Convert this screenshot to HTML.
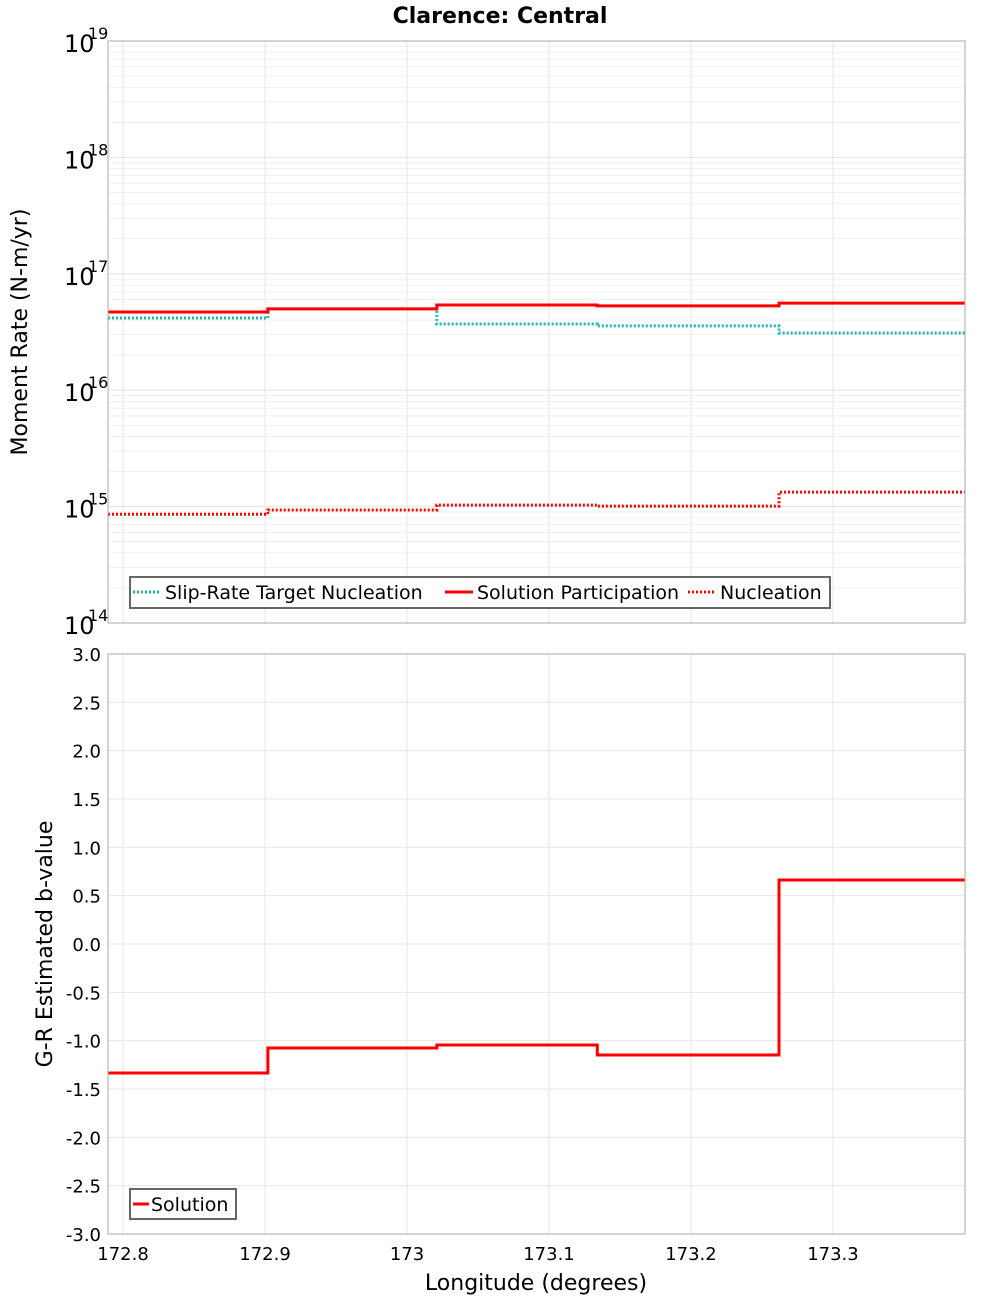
<!DOCTYPE html>
<html><head><meta charset="utf-8"><style>
body{margin:0;background:#fff}
svg{display:block;font-family:"DejaVu Sans","Liberation Sans",sans-serif}
</style></head><body>
<svg id="c" width="1000" height="1300" xmlns="http://www.w3.org/2000/svg">
<text x="500" y="23" text-anchor="middle" font-size="22" font-weight="bold">Clarence: Central</text>
<g id="topPanel"></g>
<g id="botPanel"></g>
<text transform="translate(27,332) rotate(-90)" text-anchor="middle" font-size="22">Moment Rate (N-m/yr)</text>
<text transform="translate(52,944) rotate(-90)" text-anchor="middle" font-size="22">G-R Estimated b-value</text>
<text x="536" y="1290" text-anchor="middle" font-size="22">Longitude (degrees)</text>
</svg>
<script>
const binEdges=[172.7894,172.902,173.021,173.134,173.262,173.393];
const xTicks=[172.8,172.9,173.0,173.1,173.2,173.3];
const xTickLabels=["172.8","172.9","173","173.1","173.2","173.3"];
const targetNucleation=[4.17e16,5.0e16,3.7e16,3.57e16,3.1e16];
const solutionParticipation=[4.7e16,5.0e16,5.4e16,5.3e16,5.6e16];
const nucleation=[8.6e14,9.35e14,1.03e15,1.01e15,1.33e15];
const bValues=[-1.334,-1.076,-1.045,-1.148,0.662];
const bTicks=[3,2.5,2,1.5,1,0.5,0,-0.5,-1,-1.5,-2,-2.5,-3];
const logTicks=[14,15,16,17,18,19];

const NS="http://www.w3.org/2000/svg";
const L=108,R=965,T1=41,B1=623,T2=654,B2=1234;
const xs=v=>L+(v-172.7894)/(173.393-172.7894)*(R-L);
const y1=v=>B1-(Math.log10(v)-14)/5*(B1-T1);
const y2=v=>B2-(v+3)/6*(B2-T2);
function mk(p,tag,at,txt){const e=document.createElementNS(NS,tag);for(const k in at)e.setAttribute(k,at[k]);if(txt!==undefined)e.textContent=txt;p.appendChild(e);return e;}
const topG=document.getElementById('topPanel'),botG=document.getElementById('botPanel');
for(let d=14;d<19;d++)for(let m=1;m<10;m++){const y=y1(m*Math.pow(10,d));
 const g=mk(topG,'line',{x1:L,x2:R,y1:y,y2:y,stroke:m==1?'#e2e2e2':'#efefef','stroke-width':1});
 
 }
for(const t of xTicks){const x=xs(t);
 let g=mk(topG,'line',{x1:x,x2:x,y1:T1,y2:B1,stroke:'#e6e6e6'});
 
 
 g=mk(botG,'line',{x1:x,x2:x,y1:T2,y2:B2,stroke:'#e6e6e6'});
 
 }
for(const t of bTicks){const y=y2(t);
 let g=mk(botG,'line',{x1:L,x2:R,y1:y,y2:y,stroke:'#e6e6e6'});
 
 
 const tx=mk(botG,'text',{x:101,y:y+7,'text-anchor':'end','font-size':18},t.toFixed(1));
 
 }
for(const d of logTicks){const y=y1(Math.pow(10,d));
 const g=mk(topG,'g',{});
 
 
 mk(g,'text',{x:64,y:y+11,'font-size':24},'10');mk(g,'text',{x:88,y:y-2,'font-size':16},String(d));}
xTicks.forEach((t,i)=>{const tx=mk(botG,'text',{x:xs(t),y:1260,'text-anchor':'middle','font-size':18},xTickLabels[i]);
 
 });
function step(p,vals,yf,col,dash,w,name){let d='';vals.forEach((v,i)=>{const a=xs(binEdges[i]),b=xs(binEdges[i+1]),y=yf(v);d+=(i?'L':'M')+a+' '+y+'L'+b+' '+y;});
 const e=mk(p,'path',{d:d,fill:'none',stroke:col,'stroke-width':w,'stroke-dasharray':dash||'none'});
 
 }
step(topG,targetNucleation,y1,'#1ab5b5','2 2',3,'target-nucleation-line');
step(topG,solutionParticipation,y1,'#f00','',3,'solution-participation-line');
step(topG,nucleation,y1,'#f00','2 2',3,'nucleation-line');
step(botG,bValues,y2,'#f00','',3,'solution-b-value-line');
let f=mk(topG,'rect',{x:L,y:T1,width:R-L,height:B1-T1,fill:'none',stroke:'#aaa'});


f=mk(botG,'rect',{x:L,y:T2,width:R-L,height:B2-T2,fill:'none',stroke:'#aaa'});


let lg=mk(topG,'g',{});


mk(lg,'rect',{x:130,y:577,width:700,height:31,fill:'#fff',stroke:'#666','stroke-width':2});
const items=[[133,'Slip-Rate Target Nucleation','#1ab5b5','2 2'],[445,'Solution Participation','#f00',''],[688,'Nucleation','#f00','2 2']];
for(const it of items){const e=mk(lg,'g',{});
 
 
 mk(e,'line',{x1:it[0],x2:it[0]+28,y1:592,y2:592,stroke:it[2],'stroke-width':3,'stroke-dasharray':it[3]||'none'});
 mk(e,'text',{x:it[0]+32,y:599,'font-size':19},it[1]);}
lg=mk(botG,'g',{});


mk(lg,'rect',{x:130,y:1189,width:106,height:30,fill:'#fff',stroke:'#666','stroke-width':2});
mk(lg,'line',{x1:133,x2:149,y1:1204,y2:1204,stroke:'#f00','stroke-width':3});
mk(lg,'text',{x:151,y:1211,'font-size':19},'Solution');
</script>
</body></html>
